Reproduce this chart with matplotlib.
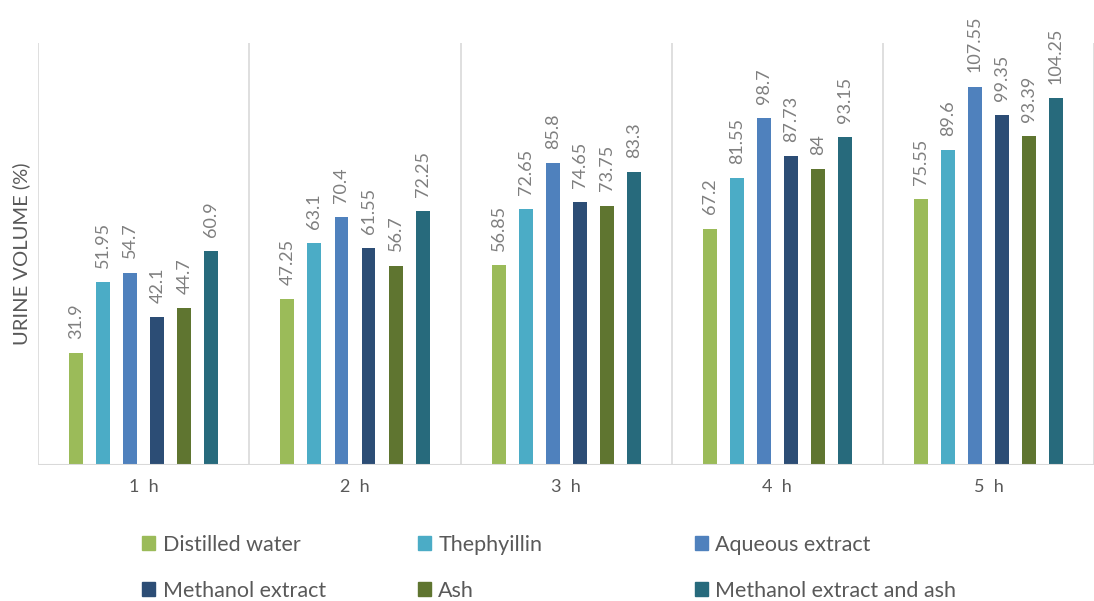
import matplotlib.pyplot as plt
from matplotlib.patches import Patch
import numpy as np

plt.rcParams['font.family'] = ['Lato', 'DejaVu Sans']

hours = ['1  h', '2  h', '3  h', '4  h', '5  h']
series = ['Distilled water', 'Thephyillin', 'Aqueous extract',
          'Methanol extract', 'Ash', 'Methanol extract and ash']
distilled = [31.9, 47.25, 56.85, 67.2, 75.55]
thephyillin = [51.95, 63.1, 72.65, 81.55, 89.6]
aqueous = [54.7, 70.4, 85.8, 98.7, 107.55]
methanol = [42.1, 61.55, 74.65, 87.73, 99.35]
ash = [44.7, 56.7, 73.75, 84, 93.39]
meth_ash = [60.9, 72.25, 83.3, 93.15, 104.25]
values = [distilled, thephyillin, aqueous, methanol, ash, meth_ash]
labels = [['31.9', '47.25', '56.85', '67.2', '75.55'],
          ['51.95', '63.1', '72.65', '81.55', '89.6'],
          ['54.7', '70.4', '85.8', '98.7', '107.55'],
          ['42.1', '61.55', '74.65', '87.73', '99.35'],
          ['44.7', '56.7', '73.75', '84', '93.39'],
          ['60.9', '72.25', '83.3', '93.15', '104.25']]
colors = ['#9BBB59', '#4BACC6', '#4F81BD', '#2C4D75', '#5F7530', '#276A7C']

fig = plt.figure(figsize=(10.94, 6.01), dpi=100)
ax = fig.add_axes([0.035, 0.226, 0.965, 0.703])

x = np.arange(len(hours))
step = 0.128
w = 0.066
for i, (vals, c) in enumerate(zip(values, colors)):
    pos = x + (i - 2.5) * step
    ax.bar(pos, vals, width=w, color=c, zorder=3)
    for px, v, t in zip(pos, vals, labels[i]):
        ax.text(px, v + 4, t, rotation=90, ha='center', va='bottom',
                fontsize=13, color='#7f7f7f')

ax.set_xlim(-0.5, 4.5)
ax.set_ylim(0, 120)
for b in np.arange(-0.5, 4.6, 1):
    ax.axvline(b, color='#d9d9d9', lw=1.2, zorder=1)
ax.axhline(0, color='#d9d9d9', lw=1.5, zorder=4)
for s in ax.spines.values():
    s.set_visible(False)
ax.set_yticks([])
ax.set_xticks(x)
ax.set_xticklabels(hours, fontsize=13, color='#595959')
ax.tick_params(axis='x', length=0, pad=10)
ax.set_ylabel('URINE VOLUME (%)', fontsize=14.5, color='#595959', labelpad=6)

# legend laid out row-wise: one legend per column
col_x = [0.130, 0.382, 0.635]
for k in range(3):
    hs = [Patch(color=colors[k], label=series[k]),
          Patch(color=colors[k + 3], label=series[k + 3])]
    leg = fig.legend(handles=hs, loc='upper left',
                     bbox_to_anchor=(col_x[k], 0.11), frameon=False,
                     fontsize=15.5, labelcolor='#595959', handlelength=0.6,
                     handleheight=0.6, handletextpad=0.35,
                     labelspacing=1.2, borderpad=0, borderaxespad=0)

fig.savefig('out.png', dpi=100)
